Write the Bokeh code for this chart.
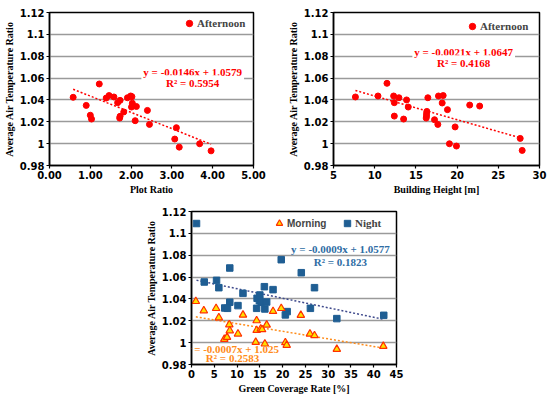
import numpy as np
from bokeh.plotting import figure
from bokeh.models import Range1d, FixedTicker, Label, Legend, LegendItem, Spacer
from bokeh.layouts import column, row
from bokeh.embed import file_html
from bokeh.resources import INLINE

# ---------------- data ----------------
plot_ratio = [0.58, 0.90, 1.22, 1.00, 1.03, 1.39, 1.46, 1.58, 1.67, 1.73, 1.72, 1.73, 1.82, 1.91,
              1.99, 2.02, 2.01, 2.03, 2.13, 2.10, 2.40, 2.45, 3.11, 3.07, 3.18, 3.68, 3.96]
afternoon_pr = [1.0424, 1.0350, 1.0546, 1.0260, 1.0225, 1.0417, 1.0440, 1.0427, 1.0375, 1.0396,
                1.0234, 1.0250, 1.0290, 1.0420, 1.0436, 1.0430, 1.0335, 1.0370, 1.0340, 1.0210,
                1.0304, 1.0176, 1.0146, 1.0042, 0.9968, 0.9999, 0.9934]

building_height = [7.66, 10.40, 11.49, 12.30, 12.38, 12.38, 12.94, 13.87, 14.07, 13.51, 16.45, 16.33,
                   16.29, 16.29, 16.25, 17.26, 17.66, 17.74, 18.31, 18.19, 18.83, 19.76, 19.07, 19.92,
                   21.53, 22.74, 27.66, 27.90]
afternoon_bh = [1.0427, 1.0436, 1.0552, 1.0436, 1.0375, 1.0252, 1.0420, 1.0400, 1.0335, 1.0225,
                1.0420, 1.0295, 1.0274, 1.0252, 1.0234, 1.0219, 1.0176, 1.0436, 1.0440, 1.0372,
                1.0311, 1.0153, 0.9999, 0.9978, 1.0353, 1.0344, 1.0048, 0.9938]

green_night = [1.1, 2.8, 5.5, 6.0, 8.4, 8.4, 7.3, 7.9, 10.2, 11.3, 14.4, 14.3, 15.0, 14.9, 15.3, 16.0,
               16.5, 16.1, 17.9, 19.7, 21.0, 20.6, 24.1, 26.1, 27.0, 31.9, 42.2]
night = [1.1090, 1.0555, 1.0570, 1.0503, 1.0683, 1.0370, 1.0317, 1.0314, 1.0339, 1.0451, 1.0406,
         1.0314, 1.0436, 1.0384, 1.0370, 1.0512, 1.0372, 1.0308, 1.0485, 1.0759, 1.0284, 1.0254,
         1.0640, 1.0314, 1.0503, 1.0220, 1.0250]

green_morning = [0.95, 2.7, 5.4, 6.0, 7.2, 7.8, 8.3, 8.4, 10.2, 11.3, 14.3, 14.3, 14.1, 15.2, 15.5,
                 16.1, 16.5, 17.9, 19.7, 20.6, 20.9, 24.0, 26.0, 27.0, 31.9, 42.1]
morning = [1.0378, 1.0293, 1.0314, 1.0229, 1.0031, 1.0050, 1.0165, 1.0110, 1.0080, 1.0253, 1.0202,
           1.0113, 1.0004, 1.0126, 1.0120, 0.9989, 1.0162, 1.0287, 1.0314, 1.0001, 0.9977, 1.0251,
           1.0080, 1.0065, 0.9940, 0.9967]

y_ticks = [0.98, 1.0, 1.02, 1.04, 1.06, 1.08, 1.1, 1.12]
y_tick_labels = ["0.98", "1", "1.02", "1.04", "1.06", "1.08", "1.1", "1.12"]
pr_ticks = [0, 1, 2, 3, 4, 5]
pr_tick_labels = ["0.00", "1.00", "2.00", "3.00", "4.00", "5.00"]
bh_ticks = [5, 10, 15, 20, 25, 30]
gc_ticks = [0, 5, 10, 15, 20, 25, 30, 35, 40, 45]

eq_pr = ["y = -0.0146x + 1.0579", "R\u00b2 = 0.5954"]
eq_bh = ["y = -0.0021x + 1.0647", "R\u00b2 = 0.4168"]
eq_night = ["y = -0.0009x + 1.0577", "R\u00b2 = 0.1823"]
eq_morning = ["y = -0.0007x + 1.025", "R\u00b2 = 0.2583"]

# ---------------- style ----------------
SERIF = "Liberation Serif"
SANS = "DejaVu Sans"
RED = "#FF0000"
BLUE = "#1F5E93"
BLUE_TXT = "#2E6DA4"
NIGHT_LINE = "#3F4A8C"
ORANGE = "#FF8C1A"
TRI_FILL = "#FFE000"
TRI_LINE = "#FF3000"
GRID = "#9A9A9A"


def make_fig(width, height, xr, xticks, xlabel, ylabel, borders, xlabels=None):
    bl, br, bt, bb = borders
    p = figure(width=width, height=height, x_range=Range1d(*xr), y_range=Range1d(0.98, 1.12),
               output_backend="svg", toolbar_location=None,
               min_border_left=bl, min_border_right=br, min_border_top=bt, min_border_bottom=bb,
               background_fill_color="white", border_fill_color="white")
    p.outline_line_color = "black"
    p.outline_line_width = 1.5
    p.xgrid.visible = False
    p.ygrid.ticker = FixedTicker(ticks=y_ticks)
    p.ygrid.grid_line_color = GRID
    p.ygrid.grid_line_width = 1.5
    p.yaxis.ticker = FixedTicker(ticks=y_ticks)
    p.yaxis.major_label_overrides = {t: l for t, l in zip(y_ticks, y_tick_labels)}
    p.xaxis.ticker = FixedTicker(ticks=xticks)
    if xlabels is not None:
        p.xaxis.major_label_overrides = {t: l for t, l in zip(xticks, xlabels)}
    for ax in (p.xaxis[0], p.yaxis[0]):
        ax.axis_line_color = "black"
        ax.axis_line_width = 1.5
        ax.major_tick_in = 0
        ax.major_tick_out = 3
        ax.major_tick_line_color = "black"
        ax.major_tick_line_width = 1.2
        ax.minor_tick_line_color = None
        ax.major_label_text_font = SANS
        ax.major_label_text_font_style = "bold"
        ax.major_label_text_font_size = "10px"
        ax.major_label_text_color = "black"
        ax.major_label_standoff = 2
        ax.axis_label_text_font = SERIF
        ax.axis_label_text_font_style = "bold"
        ax.axis_label_text_font_size = "10px"
        ax.axis_label_text_color = "black"
        ax.axis_label_standoff = 2
    p.xaxis.axis_label = xlabel
    p.yaxis.axis_label = ylabel
    return p


def trend(p, xs, ys, color):
    k, b = np.polyfit(xs, ys, 1)
    x0, x1 = min(xs), max(xs)
    p.line([x0, x1], [k * x0 + b, k * x1 + b], line_color=color, line_width=1.5, line_dash="2 2")


def eq_labels(p, x, y1, y2, texts, color, bg):
    for yy, t in zip((y1, y2), texts):
        kw = {}
        if bg:
            kw = dict(background_fill_color="white", padding=2)
        p.add_layout(Label(x=x, y=yy, text=t, text_align="center", text_baseline="middle",
                           text_font=SERIF, text_font_style="bold", text_font_size="11px",
                           text_color=color, **kw))


def legend(p, r, label, loc, font, size="11px", glyph=16):
    lg = Legend(items=[LegendItem(label=label, renderers=[r])], location=loc,
                border_line_alpha=0, background_fill_alpha=0, glyph_width=glyph, glyph_height=glyph,
                label_standoff=0, padding=0, margin=0, label_text_font=font,
                label_text_font_style="bold", label_text_font_size=size, label_height=glyph)
    p.add_layout(lg)


YLAB = "Average Air Temperature Ratio"

# ---- plot ratio ----
p1 = make_fig(275, 198, (0, 5), pr_ticks, "Plot Ratio", YLAB, (47, 22, 12, 33), pr_tick_labels)
trend(p1, plot_ratio, afternoon_pr, RED)
r1 = p1.scatter(plot_ratio, afternoon_pr, size=6, marker="circle", fill_color=RED, line_color=RED)
eq_labels(p1, 3.51, 1.0653, 1.0552, eq_pr, RED, True)
legend(p1, r1, "Afternoon", (132, 134), SERIF)

# ---- building height ----
p2 = make_fig(275, 198, (5, 30), bh_ticks, "Building Height [m]", YLAB, (58, 11, 12, 33))
trend(p2, building_height, afternoon_bh, RED)
r2 = p2.scatter(building_height, afternoon_bh, size=6, marker="circle", fill_color=RED, line_color=RED)
eq_labels(p2, 20.8, 1.0836, 1.0735, eq_bh, RED, True)
legend(p2, r2, "Afternoon", (131, 131), SERIF)

# ---- green coverage ----
p3 = make_fig(270, 200, (0, 45), gc_ticks, "Green Coverage Rate [%]", YLAB, (51, 14, 13, 34))
trend(p3, green_night, night, NIGHT_LINE)
trend(p3, green_morning, morning, ORANGE)
rn = p3.scatter(green_night, night, size=6.5, marker="square", fill_color=BLUE, line_color=BLUE)
rm = p3.scatter(green_morning, morning, size=7.5, marker="triangle", fill_color=TRI_FILL,
                line_color=TRI_LINE, line_width=1.2)
eq_labels(p3, 32.7, 1.0859, 1.0741, eq_night, BLUE_TXT, False)
eq_labels(p3, 9.0, 0.9946, 0.9855, eq_morning, ORANGE, False)
legend(p3, rm, "Morning", (80, 133), "Liberation Sans", "10px")
legend(p3, rn, "Night", (148, 133), SERIF)

layout = column(row(p1, p2), row(Spacer(width=140, height=10), p3))

with open("out.html", "w") as f:
    f.write(file_html(layout, INLINE))
